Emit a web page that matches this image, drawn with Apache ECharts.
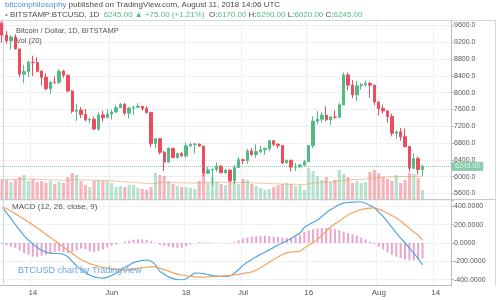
<!DOCTYPE html>
<html><head><meta charset="utf-8">
<script src="https://cdn.jsdelivr.net/npm/echarts@6/dist/echarts.min.js"></script>
<style>html,body{margin:0;padding:0;background:#fff;}#c{width:500px;height:300px;}</style>
</head><body><div id="c"></div>
<script>
// ---- axis / categories ----
const startDate = '2018-05-07';
const dayCount = 103;
const tickDates = ['2018-05-14','2018-06-01','2018-06-18','2018-07-01','2018-07-16','2018-08-01','2018-08-14'];
const tickLabels = ['14','Jun','18','Jul','16','Aug','14'];

// ---- daily candles [open, high, low, close], May 7 .. Aug 11 2018 ----
const ohlc = [
[9654,9700,9188,9373],[9373,9467,9170,9234],[9234,9365,9031,9325],[9325,9396,9030,9043],[9043,9060,8375,8441],
[8441,8664,8226,8504],[8504,8767,8373,8723],[8723,8881,8400,8716],[8716,8837,8485,8510],[8510,8540,8173,8368],
[8368,8463,8055,8094],[8094,8274,7974,8250],[8250,8386,8212,8247],[8247,8558,8205,8513],[8513,8541,8355,8418],
[8418,8430,8010,8041],[8041,8060,7509,7557],[7557,7734,7331,7587],[7587,7659,7400,7480],[7480,7615,7319,7355],
[7355,7407,7269,7368],[7368,7437,7112,7135],[7135,7533,7090,7472],[7472,7573,7313,7406],[7406,7608,7394,7494],
[7494,7595,7359,7541],[7541,7701,7520,7643],[7643,7757,7632,7720],[7720,7760,7465,7514],[7514,7660,7383,7633],
[7633,7690,7473,7653],[7653,7750,7640,7678],[7678,7684,7569,7624],[7624,7682,7500,7531],[7531,7531,6703,6786],
[6786,6909,6683,6906],[6906,6910,6531,6582],[6582,6619,6136,6349],[6349,6703,6336,6675],[6675,6675,6435,6456],
[6456,6570,6422,6550],[6550,6590,6471,6499],[6499,6814,6452,6734],[6734,6808,6700,6769],[6769,6808,6555,6776],
[6776,6791,6718,6729],[6729,6729,6012,6083],[6083,6237,6063,6162],[6162,6200,5785,6173],[6173,6334,6114,6250],
[6250,6283,6080,6093],[6093,6186,6067,6157],[6157,6171,5884,5903],[5903,6284,5826,6218],[6218,6468,6218,6404],
[6404,6432,6300,6385],[6385,6658,6305,6614],[6614,6678,6496,6529],[6529,6771,6450,6597],[6597,6737,6557,6639],
[6639,6691,6516,6673],[6673,6860,6606,6856],[6856,6870,6726,6773],[6773,6795,6672,6741],[6741,6742,6303,6329],
[6329,6402,6326,6394],[6394,6394,6124,6228],[6228,6327,6136,6238],[6238,6310,6200,6276],[6276,6403,6255,6359],
[6359,6740,6340,6741],[6741,7440,6680,7321],[7321,7560,7250,7370],[7370,7538,7290,7466],[7466,7680,7320,7354],
[7354,7450,7230,7419],[7419,7580,7380,7418],[7418,7750,7410,7711],[7711,8480,7700,8424],[8424,8480,8060,8181],
[8181,8300,7870,7951],[7951,8280,7800,8165],[8165,8230,8070,8192],[8192,8290,8140,8218],[8218,8270,7880,8180],
[8180,8180,7700,7780],[7780,7780,7460,7624],[7624,7720,7500,7567],[7567,7567,7290,7434],[7434,7500,6960,7033],
[7033,7100,6900,7068],[7068,7160,6860,6952],[6952,7150,6690,6720],[6720,6730,6120,6200],[6200,6560,6180,6430],
[6430,6480,6050,6170],[6170,6290,6020,6245]
];

// ---- volume (BTC) and its 20-day average ----
const volume = [
12000,11400,10200,11400,13200,14400,10800,12000,10200,10800,9600,10800,9000,10200,9600,13200,15600,14400,10800,8400,
7200,10800,11400,10800,10800,9600,7200,7800,7200,8400,8400,6600,6000,5400,7200,15600,
14400,13800,10800,9000,7800,7200,7200,6600,6000,10800,15000,9600,13200,10200,9000,8400,12600,10200,9000,12000,11400,
9000,7800,6600,5400,6000,7200,8400,9000,9600,9000,7800,8400,
5400,18600,16800,13800,11400,13200,10200,11400,17400,15000,13200,9600,10800,9600,10200,16200,17400,15600,13200,12000,
10800,14400,9600,11400,15600,15000,12600,5400
];
const volumeMA = [
11500,11600,11600,11700,11800,11900,11900,11900,11800,11700,11600,11500,11400,11300,11200,11300,11500,11600,11600,11500,
11300,11200,11200,11100,11000,10900,10700,10500,10300,10100,9900,9700,9500,9300,9200,9400,
9700,9800,9800,9800,9800,9700,9700,9600,9500,9600,9800,9900,10100,10100,10100,10000,10000,9900,9900,9900,9800,
9700,9600,9500,9400,9300,9200,9100,9000,8900,8900,8800,8800,
8600,9100,9500,9800,10000,10200,10300,10500,10900,11200,11500,11600,11700,11800,11900,12200,12600,12900,13100,13200,
13300,13400,13500,13500,13600,13600,13700,13600
];

// ---- MACD (12, 26, close, 9) ----
const macdLine = [
390,330,270,200,140,80,30,-10,-50,-80,-100,-110,-115,-115,-125,-150,-200,-250,-290,-320,
-350,-370,-380,-383,-375,-355,-330,-300,-270,-240,-215,-200,-190,-186,-200,-240,
-310,-340,-370,-390,-400,-404,-390,-360,-330,-328,-335,-345,-355,-362,-366,-365,-361,-330,-290,-245,-208,
-180,-150,-125,-100,-75,-48,-22,0,25,50,80,110,
170,200,225,251,290,330,365,393,420,435,443,447,448,448,435,410,383,340,290,230,
170,110,55,0,-55,-110,-170,-240
];
const signalLine = [
392,375,350,320,290,260,230,197,165,130,95,60,25,-10,-45,-80,-115,-150,-180,-205,
-225,-240,-255,-265,-275,-283,-290,-295,-293,-290,-285,-278,-270,-265,-262,-262,
-278,-292,-308,-325,-340,-350,-358,-365,-370,-372,-372,-370,-368,-365,-362,-358,-354,-350,-343,-333,-325,
-317,-295,-270,-240,-210,-180,-153,-125,-108,-98,-94,-90,
-55,-25,5,40,85,130,175,210,240,275,306,330,350,365,375,381,383,370,350,325,
300,273,240,200,160,120,87,30
];
const histogram = [
-10,-25,-40,-55,-80,-110,-130,-150,-150,-140,-130,-115,-100,-90,-100,-110,-100,-80,-60,-70,
-90,-100,-90,-70,-50,-30,-15,0,15,25,35,40,40,35,20,5,
-20,-30,-40,-50,-55,-50,-35,-15,0,10,10,8,5,3,0,-2,-5,10,30,50,60,
70,75,80,80,75,70,65,60,55,60,70,85,
120,140,150,160,165,165,160,150,140,125,110,95,80,60,40,15,-10,-40,-70,-100,
-130,-150,-165,-180,-190,-190,-180,-170
];

// ---- build categories ----
const categories = [];
{
  const d0 = new Date(startDate + 'T00:00:00Z');
  for (let i = 0; i < dayCount; i++) {
    const d = new Date(d0.getTime() + i * 86400000);
    categories.push(d.toISOString().slice(0, 10));
  }
}

const UP = '#53b987', DOWN = '#eb4d5c';
const UPV = 'rgba(83,185,135,0.42)', DOWNV = 'rgba(235,77,92,0.42)';
const FONT = 'Liberation Sans, Arial, sans-serif';
const GRIDC = '#eef0f4';
const AXC = '#b8bcc4';
const isTick = (idx, val) => tickDates.indexOf(val) >= 0;
const last = ohlc[ohlc.length - 1];

const hiddenX = (gi, split) => ({
  type: 'category', gridIndex: gi, data: categories, boundaryGap: true,
  axisLine: {show: false}, axisTick: {show: false}, axisLabel: {show: false},
  splitLine: {show: split, interval: isTick, lineStyle: {color: GRIDC, width: 1}}
});

const chart = echarts.init(document.getElementById('c'), null, {renderer: 'canvas'});
chart.setOption({
  animation: false,
  backgroundColor: '#ffffff',
  textStyle: {fontFamily: FONT},
  title: [
    {left: 5, top: 1, padding: 0, text: '{u|bitcoinphilosophy} published on TradingView.com, August 11, 2018 14:06 UTC',
     textStyle: {fontSize: 8, fontWeight: 'normal', color: '#4a4a4a', fontFamily: FONT,
       rich: {u: {fontSize: 8, color: '#4e8fd6', fontFamily: FONT}}}},
    {left: 5, top: 11, padding: 0,
     text: '{k|•} BITSTAMP:BTCUSD, 1D  {g|6245.00 ▲ +75.00 (+1.21%)}  O:{g|6170.00} H:{g|6290.00} L:{g|6020.00} C:{g|6245.00}',
     textStyle: {fontSize: 8, fontWeight: 'normal', color: '#4a4a4a', fontFamily: FONT,
       rich: {g: {fontSize: 8, color: UP, fontFamily: FONT}, k: {fontSize: 8, color: '#888', fontFamily: FONT}}}},
    {left: 16, top: 27, padding: 0, text: 'Bitcoin / Dollar, 1D, BITSTAMP',
     textStyle: {fontSize: 7.5, fontWeight: 'normal', color: '#555', fontFamily: FONT}},
    {left: 16, top: 37, padding: 0, text: 'Vol (20)',
     textStyle: {fontSize: 7.5, fontWeight: 'normal', color: '#555', fontFamily: FONT}},
    {left: 12, top: 203, padding: 0, text: 'MACD (12, 26, close, 9)',
     textStyle: {fontSize: 8, fontWeight: 'normal', color: '#555', fontFamily: FONT}},
    {left: 18, top: 266, padding: 0, text: 'BTCUSD chart by TradingView',
     textStyle: {fontSize: 9, fontWeight: 'normal', color: '#6aa6e6', fontFamily: FONT}}
  ],
  grid: [
    {left: 0, right: 49, top: 20, height: 173.5},
    {left: 0, right: 49, top: 165, height: 34},
    {left: 0, right: 49, top: 200, height: 79.6},
    {left: 0, right: 49, top: 200, height: 85}
  ],
  xAxis: [
    hiddenX(0, true),
    hiddenX(1, true),
    hiddenX(2, false),
    {type: 'category', gridIndex: 3, data: categories, boundaryGap: true,
     axisLine: {show: true, lineStyle: {color: AXC}}, axisTick: {show: false},
     axisLabel: {interval: isTick, formatter: v => tickLabels[tickDates.indexOf(v)],
       fontSize: 8, color: '#555', margin: 4, fontFamily: FONT},
     splitLine: {show: true, interval: isTick, lineStyle: {color: GRIDC}}}
  ],
  yAxis: [
    {type: 'value', gridIndex: 0, position: 'right', min: 5600, max: 9731, interval: 400, scale: true,
     axisLine: {show: true, lineStyle: {color: AXC}}, axisTick: {show: true, length: 3, lineStyle: {color: AXC}},
     axisLabel: {fontSize: 7, color: '#555', margin: 3, fontFamily: FONT,
       formatter: v => (v % 400 === 0 ? v.toFixed(1) : '')},
     splitLine: {show: true, lineStyle: {color: GRIDC}}},
    {type: 'value', gridIndex: 1, min: 0, max: 20400, show: false, splitLine: {show: false}},
    {type: 'value', gridIndex: 2, position: 'right', min: -400, max: 470, interval: 200,
     axisLine: {show: true, lineStyle: {color: AXC}}, axisTick: {show: true, length: 3, lineStyle: {color: AXC}},
     axisLabel: {fontSize: 7, color: '#555', margin: 3, fontFamily: FONT,
       formatter: v => (v % 200 === 0 ? v.toFixed(4) : '')},
     splitLine: {show: true, lineStyle: {color: GRIDC}}},
    {type: 'value', gridIndex: 3, min: 0, max: 1, show: false, splitLine: {show: false}}
  ],
  series: [
    {type: 'bar', name: 'Volume', xAxisIndex: 1, yAxisIndex: 1, barWidth: '72%', z: 1,
     data: volume.map((v, i) => ({value: v, itemStyle: {color: ohlc[i][3] >= ohlc[i][0] ? UPV : DOWNV}}))},
    {type: 'line', name: 'Vol MA', xAxisIndex: 1, yAxisIndex: 1, data: volumeMA, symbol: 'none', z: 2,
     lineStyle: {color: 'rgba(232,150,90,0.55)', width: 1}},
    {type: 'candlestick', name: 'BTCUSD', xAxisIndex: 0, yAxisIndex: 0, barWidth: '66%', z: 3,
     data: ohlc.map(d => [d[0], d[3], d[2], d[1]]),
     itemStyle: {color: UP, color0: DOWN, borderColor: UP, borderColor0: DOWN, borderWidth: 1},
     markLine: {silent: true, symbol: ['none', 'none'], animation: false,
       data: [{yAxis: last[3]}],
       lineStyle: {color: UP, type: 'dotted', width: 1, opacity: 0.7},
       label: {show: true, position: 'end', distance: 1, formatter: p => Number(p.value).toFixed(2),
         backgroundColor: UP, color: '#fff', fontSize: 7, padding: [1, 3], fontFamily: FONT}}},
    {type: 'bar', name: 'Histogram', xAxisIndex: 2, yAxisIndex: 2, data: histogram, barWidth: '45%',
     itemStyle: {color: 'rgba(214,90,160,0.55)'}},
    {type: 'line', name: 'MACD', xAxisIndex: 2, yAxisIndex: 2, data: macdLine, symbol: 'none', smooth: 0.3,
     lineStyle: {color: '#4ea5e3', width: 1.2}},
    {type: 'line', name: 'Signal', xAxisIndex: 2, yAxisIndex: 2, data: signalLine, symbol: 'none', smooth: 0.3,
     lineStyle: {color: '#f2a35c', width: 1.2}}
  ],
  graphic: [
    {type: 'line', silent: true, z: 10, shape: {x1: 0, y1: 20.5, x2: 496, y2: 20.5}, style: {stroke: '#d5d8de', lineWidth: 1}},
    {type: 'line', silent: true, z: 10, shape: {x1: 0, y1: 199.5, x2: 496, y2: 199.5}, style: {stroke: '#c6c9d0', lineWidth: 1}},
    {type: 'line', silent: true, z: 10, shape: {x1: 451.5, y1: 20, x2: 451.5, y2: 286}, style: {stroke: AXC, lineWidth: 1}},
    {type: 'line', silent: true, z: 10, shape: {x1: 495.5, y1: 20, x2: 495.5, y2: 286}, style: {stroke: '#d5d8de', lineWidth: 1}},
    {type: 'line', silent: true, z: 10, shape: {x1: 3.5, y1: 20, x2: 3.5, y2: 286}, style: {stroke: '#d5d8de', lineWidth: 1}}
  ]
});
</script>
</body></html>
